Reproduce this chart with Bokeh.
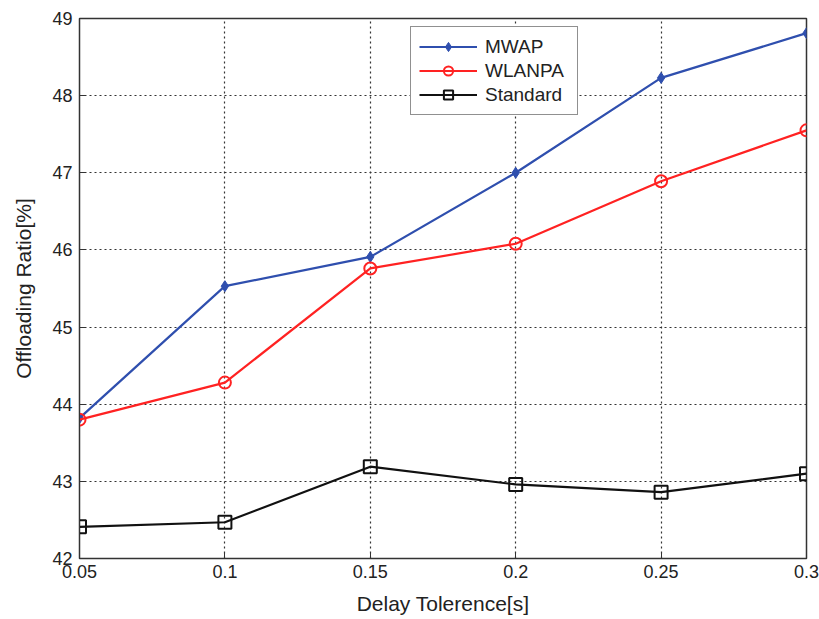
from bokeh.plotting import figure
from bokeh.models import Range1d, FixedTicker, Legend, LegendItem
from bokeh.embed import file_html
from bokeh.resources import INLINE

delay = [0.05, 0.1, 0.15, 0.2, 0.25, 0.3]
mwap = [43.82, 45.53, 45.91, 47.00, 48.23, 48.81]
wlanpa = [43.80, 44.28, 45.76, 46.08, 46.89, 47.55]
standard = [42.41, 42.47, 43.19, 42.96, 42.86, 43.10]
x_ticks = [0.05, 0.1, 0.15, 0.2, 0.25, 0.3]
y_ticks = [42, 43, 44, 45, 46, 47, 48, 49]

FONT = "Liberation Sans"

p = figure(width=819, height=619, output_backend="svg", toolbar_location=None,
           x_range=Range1d(0.05, 0.3), y_range=Range1d(42, 49))
p.min_border_left = 79
p.min_border_right = 13
p.min_border_top = 18
p.min_border_bottom = 61
p.background_fill_color = "white"
p.border_fill_color = "white"
p.outline_line_color = "#333333"
p.outline_line_width = 1.5

p.xaxis.ticker = FixedTicker(ticks=x_ticks)
p.yaxis.ticker = FixedTicker(ticks=y_ticks)
p.xaxis.major_label_overrides = {0.05: "0.05", 0.1: "0.1", 0.15: "0.15", 0.2: "0.2", 0.25: "0.25", 0.3: "0.3"}
for ax in (p.xaxis, p.yaxis):
    ax.major_tick_in = 6
    ax.major_tick_out = 0
    ax.minor_tick_line_color = None
    ax.axis_line_color = "#333333"
    ax.major_tick_line_color = "#333333"
    ax.major_label_text_font = FONT
    ax.major_label_text_font_size = "18px"
    ax.major_label_text_color = "#222222"
    ax.axis_label_text_font = FONT
    ax.axis_label_text_font_size = "21px"
    ax.axis_label_text_font_style = "normal"
    ax.axis_label_text_color = "#222222"
p.xaxis.axis_label = "Delay Tolerence[s]"
p.yaxis.axis_label = "Offloading Ratio[%]"
p.xaxis.major_label_standoff = 6
p.yaxis.major_label_standoff = 7
p.xaxis.axis_label_standoff = 11
p.yaxis.axis_label_standoff = 14

p.xgrid.grid_line_color = "#333333"
p.ygrid.grid_line_color = "#333333"
p.xgrid.grid_line_dash = "2 3"
p.ygrid.grid_line_dash = "2 3"
p.xgrid.grid_line_width = 1.2
p.ygrid.grid_line_width = 1.2

blue = "#2F4FAE"
red = "#FF2222"
black = "#111111"

l1 = p.line(delay, mwap, line_color=blue, line_width=2.2)
m1 = p.scatter(delay, mwap, marker="diamond", size=11, fill_color=blue, line_color=blue)
l2 = p.line(delay, wlanpa, line_color=red, line_width=2.2)
m2 = p.scatter(delay, wlanpa, marker="circle", size=12, fill_color=None, line_color=red, line_width=2)
l3 = p.line(delay, standard, line_color=black, line_width=2.2)
m3 = p.scatter(delay, standard, marker="square", size=13, fill_color=None, line_color=black, line_width=2)

legend = Legend(items=[LegendItem(label="MWAP", renderers=[l1, m1]),
                       LegendItem(label="WLANPA", renderers=[l2, m2]),
                       LegendItem(label="Standard", renderers=[l3, m3])],
                location=(331, 443))
legend.label_text_font = FONT
legend.label_text_font_size = "19px"
legend.label_text_color = "#222222"
legend.glyph_width = 58
legend.glyph_height = 23
legend.label_height = 23
legend.label_width = 84
legend.spacing = 1
legend.padding = 8
legend.margin = 0
legend.label_standoff = 8
legend.border_line_color = "#222222"
legend.border_line_width = 1.5
legend.background_fill_alpha = 1.0
p.add_layout(legend)

open("out.html", "w").write(file_html(p, INLINE))
